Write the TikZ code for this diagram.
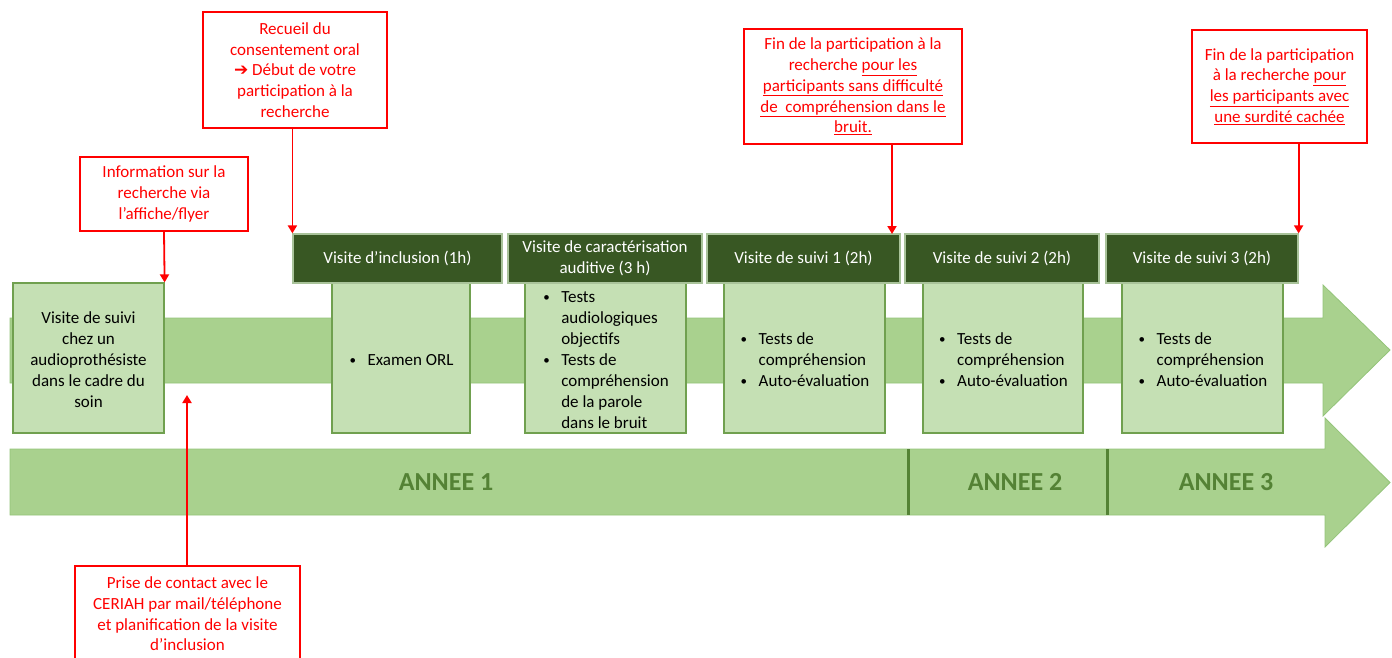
\documentclass[tikz,border=0pt]{standalone}
\usepackage{fontspec}
\setmainfont{Carlito}
\newfontfamily\dejavu{DejaVu Sans}
\usetikzlibrary{arrows.meta}
\definecolor{hdr}{HTML}{385723}
\definecolor{hdrline}{HTML}{A9C39A}
\definecolor{cnt}{HTML}{C5E0B4}
\definecolor{cntline}{HTML}{70A04F}
\definecolor{arr}{HTML}{A9D18E}
\definecolor{arrline}{HTML}{94C47A}
\definecolor{yr}{HTML}{548235}
\definecolor{rd}{HTML}{FF0000}
\newcommand{\bul}{\makebox[19pt][l]{\hspace{1pt}\raisebox{1pt}{\fontsize{13}{13}\selectfont •}}}
\newcommand{\lowr}[1]{\raisebox{-3pt}[\height][\depth]{#1}}
\begin{document}
\begin{tikzpicture}[x=1pt,y=-1pt,
  txt/.style={font=\fontsize{17}{20.7}\selectfont},
  txtc/.style={font=\fontsize{17}{21}\selectfont},
  hdrbox/.style={txt, fill=hdr, draw=hdrline, line width=1.2pt, text=white, align=center, inner sep=0pt, minimum height=49pt},
  cntbox/.style={txtc, fill=cnt, draw=cntline, line width=1.2pt, text=black, align=center, inner sep=0pt, minimum height=150pt},
  redbox/.style={txt, fill=white, draw=rd, line width=1.8pt, text=rd, align=center, inner sep=0pt},
  redarrow/.style={draw=rd, line width=1.8pt, -{Triangle[width=9pt,length=8pt]}},
  tline/.style={fill=arr, draw=arrline, line width=0.8pt},
  yearlbl/.style={font=\fontsize{26}{30}\selectfont\bfseries, text=yr},
  yeardiv/.style={draw=yr, line width=3pt}
]
\useasboundingbox (0,0) rectangle (1392,657);
\clip (0,0) rectangle (1392,657);

% timeline arrows
\path[tline] (10,318) -- (1323,318) -- (1323,285) -- (1390,350) -- (1323,416) -- (1323,383) -- (10,383) -- cycle;
\path[tline] (10,449) -- (1325,449) -- (1325,418) -- (1390,482.5) -- (1325,547) -- (1325,515) -- (10,515) -- cycle;
\draw[yeardiv] (908,449) -- (908,515);
\draw[yeardiv] (1107,449) -- (1107,515);
\node[yearlbl] (y1) at (446,482) {ANNEE 1};
\node[yearlbl] (y2) at (1015,482) {ANNEE 2};
\node[yearlbl] (y3) at (1226,482) {ANNEE 3};

% content boxes
\node[cntbox, minimum width=151pt] (c0) at (88.5,358) {\lowr{\begin{tabular}{@{}c@{}}Visite de suivi\\chez un\\audioprothésiste\\dans le cadre du\\soin\end{tabular}}};
\node[cntbox, minimum width=138pt] (c1) at (401,358) {\lowr{\begin{tabular}{@{}l@{}}\bul Examen ORL\end{tabular}}};
\node[cntbox, minimum width=161pt] (c2) at (605.5,358) {\lowr{\begin{tabular}{@{}l@{}l@{}}\bul&Tests\\&audiologiques\\&objectifs\\\bul&Tests de\\&compréhension\\&de la parole\\&dans le bruit\end{tabular}}};
\node[cntbox, minimum width=161pt] (c3) at (804.5,358) {\lowr{\begin{tabular}{@{}l@{}l@{}}\bul&Tests de\\&compréhension\\\bul&Auto-évaluation\end{tabular}}};
\node[cntbox, minimum width=160pt] (c4) at (1003,358) {\lowr{\begin{tabular}{@{}l@{}l@{}}\bul&Tests de\\&compréhension\\\bul&Auto-évaluation\end{tabular}}};
\node[cntbox, minimum width=161pt] (c5) at (1202.5,358) {\lowr{\begin{tabular}{@{}l@{}l@{}}\bul&Tests de\\&compréhension\\\bul&Auto-évaluation\end{tabular}}};

% header boxes
\node[hdrbox, minimum width=209pt] (h1) at (397.5,258.5) {Visite d’inclusion (1h)};
\node[hdrbox, minimum width=194pt] (h2) at (605,258.5) {Visite de caractérisation\\auditive (3 h)};
\node[hdrbox, minimum width=193pt] (h3) at (803.5,258.5) {Visite de suivi 1 (2h)};
\node[hdrbox, minimum width=194pt] (h4) at (1002,258.5) {Visite de suivi 2 (2h)};
\node[hdrbox, minimum width=192pt] (h5) at (1202,258.5) {Visite de suivi 3 (2h)};

% red boxes
\node[redbox, minimum width=168pt, minimum height=74pt] (ra) at (164,194) {Information sur la\\recherche via\\l’affiche/flyer};
\node[redbox, minimum width=184pt, minimum height=116pt] (rb) at (295,70) {Recueil du\\consentement oral\\{\dejavu\bfseries ➔} Début de votre\\participation à la\\recherche};
\node[redbox, minimum width=218pt, minimum height=115pt] (rc) at (853,86.5) {Fin de la participation à la\\recherche \underline{pour les}\\\underline{participants sans difficulté}\\\underline{de\ \ compréhension dans le}\\\underline{bruit.}};
\node[redbox, minimum width=175pt, minimum height=113pt] (rd) at (1279.5,86.5) {Fin de la participation\\à la recherche \underline{pour}\\\underline{les participants avec}\\\underline{une surdité cachée}};
\node[redbox, minimum width=225pt, minimum height=96pt] (re) at (187.5,614) {Prise de contact avec le\\CERIAH par mail/téléphone\\et planification de la visite\\d’inclusion};

% red connectors
\coordinate (c3tip) at (892,234);
\coordinate (etip) at (187,395);
\draw[redarrow] (ra.south) -- (c0.north east);
\draw[redarrow] (h1.north west |- rb.south) -- (h1.north west);
\draw[redarrow] (c3tip |- rc.south) -- (c3tip);
\draw[redarrow] (h5.north east |- rd.south) -- (h5.north east);
\draw[redarrow] (re.north -| etip) -- (etip);
\end{tikzpicture}
\end{document}
